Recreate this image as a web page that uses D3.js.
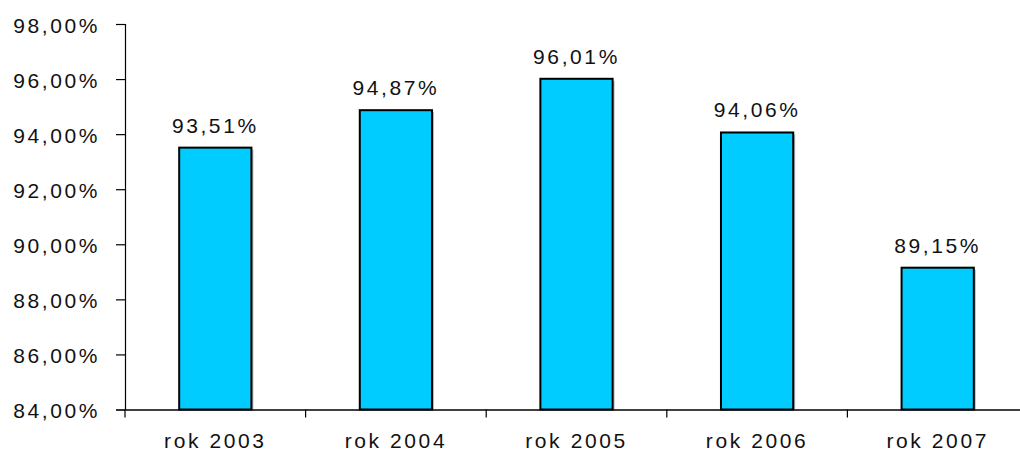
<!DOCTYPE html>
<html>
<head>
<meta charset="utf-8">
<script src="https://cdn.jsdelivr.net/npm/d3@7"></script>
<style>
  html, body { margin: 0; padding: 0; background: #fff; }
  svg text { font-family: "Liberation Sans", Arial, sans-serif; fill: #111; }
</style>
</head>
<body>
<svg id="chart" width="1020" height="455"></svg>
<script>
// Share of completed cases per year
const categories = ["rok 2003", "rok 2004", "rok 2005", "rok 2006", "rok 2007"];
const values = [93.51, 94.87, 96.01, 94.06, 89.15];
const yTicks = [84, 86, 88, 90, 92, 94, 96, 98];

const svg = d3.select("#chart");
const plotLeft = 125, plotRight = 1028, plotTop = 24, plotBottom = 409.5;
const fontSize = 21, spacing = "2.6px";

const x = d3.scaleBand().domain(categories).range([plotLeft, plotRight]).padding(0);
const y = d3.scaleLinear().domain([84, 98]).range([plotBottom, plotTop]);

const fmt = v => v.toFixed(2).replace(".", ",") + "%";
const barW = x.step() * 0.4;

// y axis
const yAxis = svg.append("g").attr("transform", `translate(${plotLeft},0)`)
  .call(d3.axisLeft(y).tickValues(yTicks).tickSize(9).tickPadding(16).tickFormat(fmt));
yAxis.select(".domain").attr("stroke", "#000").attr("stroke-width", 1.2);
yAxis.selectAll(".tick line").attr("stroke", "#000").attr("stroke-width", 1.2);
yAxis.selectAll("text")
  .attr("font-size", fontSize).attr("letter-spacing", spacing).attr("dy", "0.4em")
  .attr("fill", "#111").attr("font-family", "Liberation Sans, Arial, sans-serif");

// bars with a faint shadow on the right edge
const bars = svg.append("g");
bars.selectAll("rect.shadow").data(values).join("rect")
  .attr("class", "shadow")
  .attr("x", (d, i) => x(categories[i]) + (x.step() - barW) / 2 + 2)
  .attr("y", d => y(d) + 2)
  .attr("width", barW)
  .attr("height", d => plotBottom - y(d) - 2)
  .attr("fill", "#bbb");
bars.selectAll("rect.bar").data(values).join("rect")
  .attr("class", "bar")
  .attr("x", (d, i) => x(categories[i]) + (x.step() - barW) / 2)
  .attr("y", d => y(d))
  .attr("width", barW)
  .attr("height", d => plotBottom - y(d))
  .attr("fill", "#00CCFF")
  .attr("stroke", "#000")
  .attr("stroke-width", 2);

// value labels
svg.append("g").selectAll("text").data(values).join("text")
  .attr("x", (d, i) => x(categories[i]) + x.step() / 2)
  .attr("y", d => y(d) - 15)
  .attr("text-anchor", "middle")
  .attr("font-size", fontSize).attr("letter-spacing", spacing)
  .text(fmt);

// x axis
const xAxis = svg.append("g").attr("transform", `translate(0,${plotBottom})`)
  .call(d3.axisBottom(x).tickSize(0).tickPadding(24));
xAxis.select(".domain").attr("stroke", "#000").attr("stroke-width", 1.5);
xAxis.selectAll("text")
  .attr("font-size", fontSize).attr("letter-spacing", spacing)
  .attr("fill", "#111").attr("font-family", "Liberation Sans, Arial, sans-serif");
// category separators
svg.append("g").selectAll("line").data(categories).join("line")
  .attr("x1", d => x(d)).attr("x2", d => x(d))
  .attr("y1", plotBottom).attr("y2", plotBottom + 8)
  .attr("stroke", "#000").attr("stroke-width", 1.2);
</script>
</body>
</html>
